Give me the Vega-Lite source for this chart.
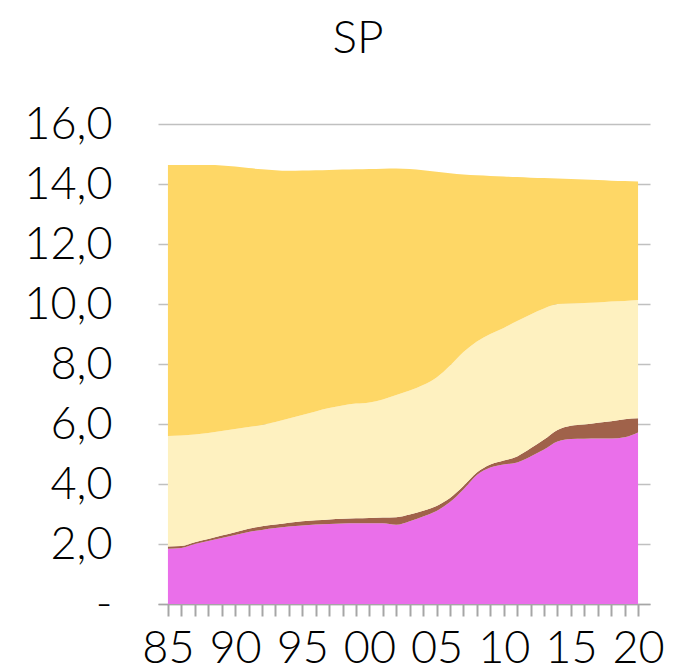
{
  "$schema": "https://vega.github.io/schema/vega-lite/v6.json",
  "width": 492,
  "height": 480,
  "autosize": {"type": "none"},
  "padding": {"left": 158, "top": 124, "right": 48, "bottom": 68},
  "background": "white",
  "title": {"text": "SP", "font": "Lato", "fontSize": 46, "fontWeight": 300, "color": "#000000", "anchor": "middle", "dx": -46, "offset": 39},
  "data": {"values": [
    {"ano":1985,"serie":"Série 1","valor":1.84},{"ano":1985,"serie":"Série 2","valor":0.08},{"ano":1985,"serie":"Série 3","valor":3.68},{"ano":1985,"serie":"Série 4","valor":9.03},
    {"ano":1986,"serie":"Série 1","valor":1.87},{"ano":1986,"serie":"Série 2","valor":0.06},{"ano":1986,"serie":"Série 3","valor":3.69},{"ano":1986,"serie":"Série 4","valor":9.01},
    {"ano":1987,"serie":"Série 1","valor":2.00},{"ano":1987,"serie":"Série 2","valor":0.06},{"ano":1987,"serie":"Série 3","valor":3.59},{"ano":1987,"serie":"Série 4","valor":8.98},
    {"ano":1988,"serie":"Série 1","valor":2.10},{"ano":1988,"serie":"Série 2","valor":0.07},{"ano":1988,"serie":"Série 3","valor":3.53},{"ano":1988,"serie":"Série 4","valor":8.93},
    {"ano":1989,"serie":"Série 1","valor":2.20},{"ano":1989,"serie":"Série 2","valor":0.08},{"ano":1989,"serie":"Série 3","valor":3.49},{"ano":1989,"serie":"Série 4","valor":8.85},
    {"ano":1990,"serie":"Série 1","valor":2.30},{"ano":1990,"serie":"Série 2","valor":0.09},{"ano":1990,"serie":"Série 3","valor":3.44},{"ano":1990,"serie":"Série 4","valor":8.75},
    {"ano":1991,"serie":"Série 1","valor":2.40},{"ano":1991,"serie":"Série 2","valor":0.11},{"ano":1991,"serie":"Série 3","valor":3.39},{"ano":1991,"serie":"Série 4","valor":8.63},
    {"ano":1992,"serie":"Série 1","valor":2.47},{"ano":1992,"serie":"Série 2","valor":0.12},{"ano":1992,"serie":"Série 3","valor":3.38},{"ano":1992,"serie":"Série 4","valor":8.52},
    {"ano":1993,"serie":"Série 1","valor":2.53},{"ano":1993,"serie":"Série 2","valor":0.12},{"ano":1993,"serie":"Série 3","valor":3.42},{"ano":1993,"serie":"Série 4","valor":8.39},
    {"ano":1994,"serie":"Série 1","valor":2.58},{"ano":1994,"serie":"Série 2","valor":0.13},{"ano":1994,"serie":"Série 3","valor":3.47},{"ano":1994,"serie":"Série 4","valor":8.26},
    {"ano":1995,"serie":"Série 1","valor":2.62},{"ano":1995,"serie":"Série 2","valor":0.14},{"ano":1995,"serie":"Série 3","valor":3.54},{"ano":1995,"serie":"Série 4","valor":8.15},
    {"ano":1996,"serie":"Série 1","valor":2.65},{"ano":1996,"serie":"Série 2","valor":0.14},{"ano":1996,"serie":"Série 3","valor":3.63},{"ano":1996,"serie":"Série 4","valor":8.04},
    {"ano":1997,"serie":"Série 1","valor":2.67},{"ano":1997,"serie":"Série 2","valor":0.15},{"ano":1997,"serie":"Série 3","valor":3.71},{"ano":1997,"serie":"Série 4","valor":7.94},
    {"ano":1998,"serie":"Série 1","valor":2.68},{"ano":1998,"serie":"Série 2","valor":0.16},{"ano":1998,"serie":"Série 3","valor":3.78},{"ano":1998,"serie":"Série 4","valor":7.86},
    {"ano":1999,"serie":"Série 1","valor":2.69},{"ano":1999,"serie":"Série 2","valor":0.17},{"ano":1999,"serie":"Série 3","valor":3.82},{"ano":1999,"serie":"Série 4","valor":7.81},
    {"ano":2000,"serie":"Série 1","valor":2.69},{"ano":2000,"serie":"Série 2","valor":0.18},{"ano":2000,"serie":"Série 3","valor":3.85},{"ano":2000,"serie":"Série 4","valor":7.78},
    {"ano":2001,"serie":"Série 1","valor":2.69},{"ano":2001,"serie":"Série 2","valor":0.19},{"ano":2001,"serie":"Série 3","valor":3.94},{"ano":2001,"serie":"Série 4","valor":7.69},
    {"ano":2002,"serie":"Série 1","valor":2.64},{"ano":2002,"serie":"Série 2","valor":0.25},{"ano":2002,"serie":"Série 3","valor":4.08},{"ano":2002,"serie":"Série 4","valor":7.55},
    {"ano":2003,"serie":"Série 1","valor":2.76},{"ano":2003,"serie":"Série 2","valor":0.22},{"ano":2003,"serie":"Série 3","valor":4.14},{"ano":2003,"serie":"Série 4","valor":7.38},
    {"ano":2004,"serie":"Série 1","valor":2.92},{"ano":2004,"serie":"Série 2","valor":0.19},{"ano":2004,"serie":"Série 3","valor":4.19},{"ano":2004,"serie":"Série 4","valor":7.16},
    {"ano":2005,"serie":"Série 1","valor":3.10},{"ano":2005,"serie":"Série 2","valor":0.17},{"ano":2005,"serie":"Série 3","valor":4.28},{"ano":2005,"serie":"Série 4","valor":6.86},
    {"ano":2006,"serie":"Série 1","valor":3.40},{"ano":2006,"serie":"Série 2","valor":0.13},{"ano":2006,"serie":"Série 3","valor":4.42},{"ano":2006,"serie":"Série 4","valor":6.41},
    {"ano":2007,"serie":"Série 1","valor":3.82},{"ano":2007,"serie":"Série 2","valor":0.11},{"ano":2007,"serie":"Série 3","valor":4.47},{"ano":2007,"serie":"Série 4","valor":5.92},
    {"ano":2008,"serie":"Série 1","valor":4.30},{"ano":2008,"serie":"Série 2","valor":0.08},{"ano":2008,"serie":"Série 3","valor":4.37},{"ano":2008,"serie":"Série 4","valor":5.54},
    {"ano":2009,"serie":"Série 1","valor":4.55},{"ano":2009,"serie":"Série 2","valor":0.10},{"ano":2009,"serie":"Série 3","valor":4.35},{"ano":2009,"serie":"Série 4","valor":5.27},
    {"ano":2010,"serie":"Série 1","valor":4.65},{"ano":2010,"serie":"Série 2","valor":0.13},{"ano":2010,"serie":"Série 3","valor":4.42},{"ano":2010,"serie":"Série 4","valor":5.05},
    {"ano":2011,"serie":"Série 1","valor":4.72},{"ano":2011,"serie":"Série 2","valor":0.20},{"ano":2011,"serie":"Série 3","valor":4.51},{"ano":2011,"serie":"Série 4","valor":4.80},
    {"ano":2012,"serie":"Série 1","valor":4.92},{"ano":2012,"serie":"Série 2","valor":0.27},{"ano":2012,"serie":"Série 3","valor":4.46},{"ano":2012,"serie":"Série 4","valor":4.56},
    {"ano":2013,"serie":"Série 1","valor":5.15},{"ano":2013,"serie":"Série 2","valor":0.33},{"ano":2013,"serie":"Série 3","valor":4.37},{"ano":2013,"serie":"Série 4","valor":4.35},
    {"ano":2014,"serie":"Série 1","valor":5.42},{"ano":2014,"serie":"Série 2","valor":0.38},{"ano":2014,"serie":"Série 3","valor":4.20},{"ano":2014,"serie":"Série 4","valor":4.18},
    {"ano":2015,"serie":"Série 1","valor":5.50},{"ano":2015,"serie":"Série 2","valor":0.44},{"ano":2015,"serie":"Série 3","valor":4.08},{"ano":2015,"serie":"Série 4","valor":4.15},
    {"ano":2016,"serie":"Série 1","valor":5.51},{"ano":2016,"serie":"Série 2","valor":0.47},{"ano":2016,"serie":"Série 3","valor":4.05},{"ano":2016,"serie":"Série 4","valor":4.12},
    {"ano":2017,"serie":"Série 1","valor":5.52},{"ano":2017,"serie":"Série 2","valor":0.52},{"ano":2017,"serie":"Série 3","valor":4.01},{"ano":2017,"serie":"Série 4","valor":4.08},
    {"ano":2018,"serie":"Série 1","valor":5.52},{"ano":2018,"serie":"Série 2","valor":0.57},{"ano":2018,"serie":"Série 3","valor":3.99},{"ano":2018,"serie":"Série 4","valor":4.03},
    {"ano":2019,"serie":"Série 1","valor":5.56},{"ano":2019,"serie":"Série 2","valor":0.60},{"ano":2019,"serie":"Série 3","valor":3.94},{"ano":2019,"serie":"Série 4","valor":4.00},
    {"ano":2020,"serie":"Série 1","valor":5.72},{"ano":2020,"serie":"Série 2","valor":0.47},{"ano":2020,"serie":"Série 3","valor":3.94},{"ano":2020,"serie":"Série 4","valor":3.95}
  ]},
  "mark": {"type": "area", "interpolate": "monotone"},
  "encoding": {
    "x": {
      "field": "ano", "type": "quantitative",
      "scale": {"domain": [1984.26, 2020.89], "nice": false, "zero": false},
      "axis": {
        "title": null, "grid": false,
        "values": [1985,1986,1987,1988,1989,1990,1991,1992,1993,1994,1995,1996,1997,1998,1999,2000,2001,2002,2003,2004,2005,2006,2007,2008,2009,2010,2011,2012,2013,2014,2015,2016,2017,2018,2019,2020],
        "labelExpr": "datum.value % 5 == 0 ? slice(toString(datum.value), 2) : ''",
        "labelOverlap": false, "labelFlush": false,
        "labelFont": "Lato", "labelFontSize": 45, "labelFontWeight": 300, "labelColor": "#000000",
        "labelPadding": 10,
        "ticks": true, "tickSize": 12, "tickWidth": 2, "tickColor": "#A6A6A6",
        "domain": true, "domainColor": "#A6A6A6", "domainWidth": 1.5
      }
    },
    "y": {
      "field": "valor", "type": "quantitative", "stack": "zero",
      "scale": {"domain": [0, 16], "nice": false},
      "axis": {
        "title": null,
        "values": [0,2,4,6,8,10,12,14,16],
        "labelExpr": "datum.value == 0 ? '-' : replace(format(datum.value, '.1f'), '.', ',')",
        "labelFont": "Lato", "labelFontSize": 45, "labelFontWeight": 300, "labelColor": "#000000",
        "labelPadding": 46,
        "ticks": false, "domain": false,
        "grid": true, "gridColor": "#C0C0C0", "gridWidth": 1.5
      }
    },
    "color": {
      "field": "serie", "type": "nominal",
      "scale": {"domain": ["Série 1", "Série 2", "Série 3", "Série 4"], "range": ["#EA6FEA", "#A0624A", "#FEF1C0", "#FED766"]},
      "legend": null
    },
    "order": {"field": "serie", "sort": "ascending"}
  },
  "config": {"view": {"stroke": null}}
}
